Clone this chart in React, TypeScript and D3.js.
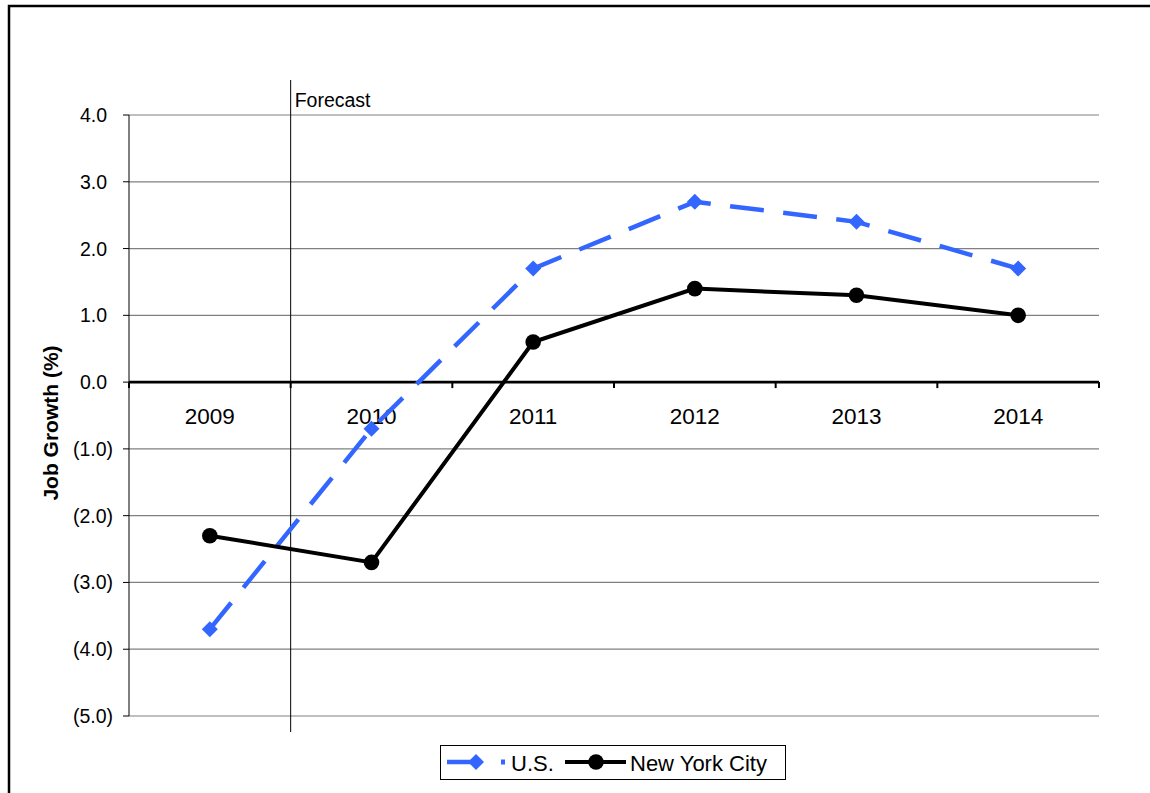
import React from "react";
import * as d3 from "d3";

// Annual job growth (%), actuals for 2009 and forecasts thereafter
const years = ["2009", "2010", "2011", "2012", "2013", "2014"];
const usGrowth = [-3.7, -0.7, 1.7, 2.7, 2.4, 1.7];
const nycGrowth = [-2.3, -2.7, 0.6, 1.4, 1.3, 1.0];
const yTicks = [-5, -4, -3, -2, -1, 0, 1, 2, 3, 4];
const seriesNames = ["U.S.", "New York City"];
const forecastLabel = "Forecast";
const yTitle = "Job Growth (%)";

const W = 1150;
const H = 793;
const plot = { left: 129, right: 1099, top: 115, bottom: 716 };
const BLUE = "#3366FF";
const FONT = "Liberation Sans, Arial, Helvetica, sans-serif";

const fmt = (v: number) =>
  v < 0 ? `(${Math.abs(v).toFixed(1)})` : v.toFixed(1);

export default function App() {
  const x = d3
    .scaleBand<string>()
    .domain(years)
    .range([plot.left, plot.right])
    .padding(0);
  const bw = x.bandwidth();
  const cx = (yr: string) => (x(yr) as number) + bw / 2;
  const y = d3.scaleLinear().domain([-5, 4]).range([plot.bottom, plot.top]);

  const line = d3
    .line<[string, number]>()
    .x((d) => cx(d[0]))
    .y((d) => y(d[1]));

  const usPts: [string, number][] = years.map((yr, i) => [yr, usGrowth[i]]);
  const nycPts: [string, number][] = years.map((yr, i) => [yr, nycGrowth[i]]);

  const diamond = d3.symbol().type(d3.symbolSquare).size(128)() as string;

  const boundaries = d3.range(years.length + 1).map((i) => plot.left + i * bw);
  const forecastX = boundaries[1];
  const y0 = y(0);

  return (
    <svg
      width={W}
      height={H}
      style={{ position: "absolute", left: 0, top: 0, background: "#fff" }}
      fontFamily={FONT}
    >
      <rect x={0} y={0} width={W} height={H} fill="#fff" />
      {/* chart frame */}
      <rect
        x={9}
        y={6}
        width={W + 20}
        height={H + 20}
        fill="none"
        stroke="#000"
        strokeWidth={2.5}
      />

      {/* horizontal gridlines and y ticks */}
      {yTicks.map((t) => (
        <g key={t}>
          {t !== 0 && (
            <line
              x1={plot.left}
              x2={plot.right}
              y1={y(t)}
              y2={y(t)}
              stroke="#808080"
              strokeWidth={1.2}
            />
          )}
          <line
            x1={plot.left - 6}
            x2={plot.left}
            y1={y(t)}
            y2={y(t)}
            stroke="#000"
            strokeWidth={1}
          />
          <text
            x={t < 0 ? 113 : 107}
            y={y(t) + 7}
            textAnchor="end"
            fontSize={19.5}
            fill="#000"
          >
            {fmt(t)}
          </text>
        </g>
      ))}

      {/* y axis */}
      <line
        x1={plot.left}
        x2={plot.left}
        y1={plot.top}
        y2={plot.bottom}
        stroke="#000"
        strokeWidth={1}
      />

      {/* forecast divider */}
      <line
        x1={forecastX}
        x2={forecastX}
        y1={80}
        y2={732}
        stroke="#000"
        strokeWidth={1}
      />
      <text x={forecastX + 4} y={107} fontSize={19.5} fill="#000">
        {forecastLabel}
      </text>

      {/* zero axis with category ticks */}
      <line
        x1={plot.left}
        x2={plot.right}
        y1={y0}
        y2={y0}
        stroke="#000"
        strokeWidth={2.7}
      />
      {boundaries.map((b, i) => (
        <line
          key={i}
          x1={b}
          x2={b}
          y1={y0}
          y2={y0 + 6}
          stroke="#000"
          strokeWidth={2}
        />
      ))}
      {years.map((yr) => (
        <text
          key={yr}
          x={cx(yr)}
          y={424}
          textAnchor="middle"
          fontSize={22.5}
          fill="#000"
        >
          {yr}
        </text>
      ))}

      {/* y axis title */}
      <text
        transform={`translate(58, 423) rotate(-90)`}
        textAnchor="middle"
        fontSize={21}
        fontWeight="bold"
        fill="#000"
      >
        {yTitle}
      </text>

      {/* U.S. series */}
      <path
        d={line(usPts) as string}
        fill="none"
        stroke={BLUE}
        strokeWidth={4.5}
        strokeDasharray="34 19.5"
      />
      {usPts.map((d) => (
        <path
          key={d[0]}
          d={diamond}
          transform={`translate(${cx(d[0])},${y(d[1])}) rotate(45)`}
          fill={BLUE}
        />
      ))}

      {/* New York City series */}
      <path
        d={line(nycPts) as string}
        fill="none"
        stroke="#000"
        strokeWidth={4}
      />
      {nycPts.map((d) => (
        <circle key={d[0]} cx={cx(d[0])} cy={y(d[1])} r={7.8} fill="#000" />
      ))}

      {/* legend */}
      <g>
        <rect
          x={440.5}
          y={745.5}
          width={345}
          height={34}
          fill="#fff"
          stroke="#000"
          strokeWidth={1}
        />
        <line x1={447} x2={476} y1={762} y2={762} stroke={BLUE} strokeWidth={4.5} />
        <path d={diamond} transform="translate(476,762) rotate(45)" fill={BLUE} />
        <rect x={501} y={759.5} width={4} height={5} fill={BLUE} />
        <text x={511} y={771} fontSize={22} fill="#000">
          {seriesNames[0]}
        </text>
        <line x1={565} x2={626} y1={762} y2={762} stroke="#000" strokeWidth={4} />
        <circle cx={596} cy={762} r={7.8} fill="#000" />
        <text x={630} y={771} fontSize={22} fill="#000">
          {seriesNames[1]}
        </text>
      </g>
    </svg>
  );
}
